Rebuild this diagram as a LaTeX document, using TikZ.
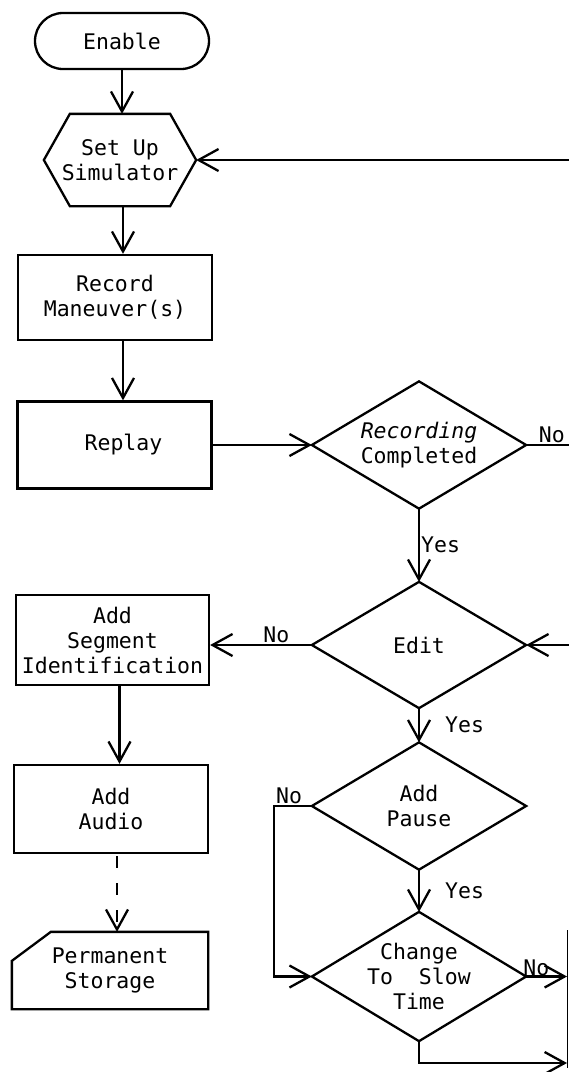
\documentclass[tikz,border=0pt]{standalone}
\usepackage{fontspec}
\setmainfont{DejaVu Sans Mono}[ItalicFont={DejaVu Sans Mono Oblique}]
\usepackage{tikz}
\usetikzlibrary{positioning, arrows.meta, calc}

\begin{document}
\begin{tikzpicture}[x=1pt, y=-1pt, line width=2.3pt,
        every node/.style={align=center, font=\fontsize{21.5}{25}\selectfont, inner sep=2pt},
        term/.style={draw, rectangle, rounded corners=28pt, minimum width=174pt, minimum height=56pt},
        box/.style={draw, rectangle, minimum width=194pt, minimum height=87pt},
        hexa/.style={rectangle, minimum width=150pt, minimum height=90pt},
        card/.style={rectangle, minimum width=194pt, minimum height=75pt},
        decision/.style={rectangle, minimum width=212pt, minimum height=125pt},
        arr/.style={-{Straight Barb[length=20pt, width=22pt]}},
        lbl/.style={inner sep=1pt}]
    \useasboundingbox (0,0) rectangle (569,1072);

    % left column
    \node [term] (enable) at (122,41) {Enable};
    \node [hexa] (setup) at (120,160) {Set Up\\Simulator};
    \node [box, minimum height=85pt] (record) at (115,297.5) {Record\\Maneuver(s)};
    \node [box] (replay) at (114.5,445) {\hspace*{18pt}Replay};
    \node [box, minimum width=193pt, minimum height=90pt] (seg) at (112.5,640) {Add\\Segment\\Identification};
    \node [box, minimum height=88pt] (audio) at (111,809) {Add\\Audio};
    \node [card] (store) at (110,970.5) {Permanent\\Storage};

    % decisions
    \node [decision] (recdone) at (419,445) {{\itshape Recording}\\Completed};
    \node [decision, minimum height=124pt] (edit) at (419,645) {Edit};
    \node [decision] (pause) at (419,806) {Add\\Pause};
    \node [decision, minimum height=127pt] (slow) at (419,976.5) {Change\\To\ \ Slow\\Time};

    \coordinate (backin) at (569,159);
    \coordinate (backout) at (569,443);
    \coordinate (editin) at (569,645);
    \coordinate (slowout) at (567,975);
    \coordinate (bottomout) at (567,1063);

    % outlines
    \draw (setup.west) -- ([xshift=26]setup.north west) -- ([xshift=-26]setup.north east)
        -- (setup.east) -- ([xshift=-26]setup.south east) -- ([xshift=26]setup.south west) -- cycle;
    \draw ([xshift=39]store.north west) -- (store.north east) -- (store.south east)
        -- (store.south west) -- ([yshift=-29]store.north west) -- cycle;
    \foreach \d in {recdone, edit, pause, slow}
        \draw (\d.west) -- (\d.north) -- (\d.east) -- (\d.south) -- cycle;

    % flow
    \draw [arr] (enable.south) -- (enable.south |- setup.north);
    \draw [arr] ([xshift=3]setup.south) -- ([xshift=3]setup.south |- record.north);
    \draw [arr] ([xshift=8]record.south) -- ([xshift=8]record.south |- replay.north);
    \draw [arr] (replay.east) -- (recdone.west);
    \draw (recdone.east) -- (recdone.east -| backout) node [pos=0.6, above, lbl] {No};
    \draw [arr] (setup.east -| backin) -- (setup.east);
    \draw [arr] (recdone.south) -- (edit.north) node [midway, right, lbl] {Yes};
    \draw [arr] (edit.west) -- (edit.west -| seg.east) node [pos=0.35, above, lbl] {No};
    \draw [arr] (editin) -- (edit.east);
    \draw [arr] (edit.south) -- (pause.north) node [midway, right=24pt, lbl] {Yes};
    \draw [arr] ([xshift=7]seg.south) -- ([xshift=7]seg.south |- audio.north);
    \draw [arr, dash pattern=on 12pt off 15pt, dash phase=-2pt] ([xshift=6]audio.south) -- ([xshift=6]audio.south |- store.north);
    \draw [arr] (pause.west) -- ++(-38,0) node [pos=0.6, above, lbl] {No} |- (slow.west);
    \draw [arr] (pause.south) -- (slow.north) node [midway, right=24pt, lbl] {Yes};
    \draw [arr] (slow.east) -- (slow.east -| slowout) node [pos=0.25, above, inner sep=0pt] {No};
    \draw [arr] (slow.south) |- (bottomout);
    \draw [line width=1pt] (567,930) -- (567,1068);
\end{tikzpicture}
\end{document}
